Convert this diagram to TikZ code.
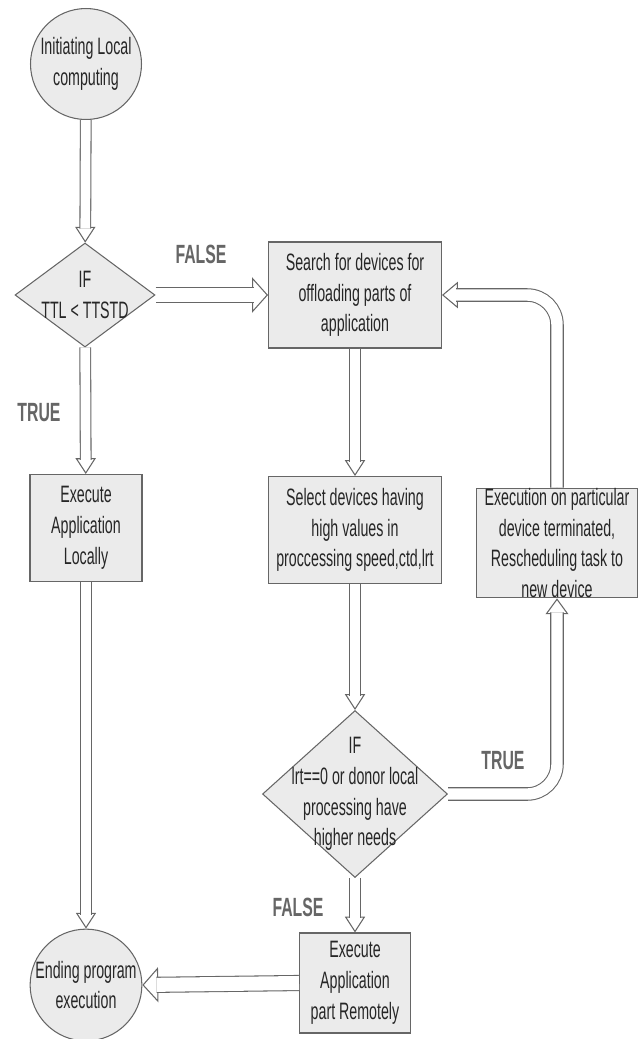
\documentclass[tikz,border=0pt]{standalone}
\usepackage{fontspec}
\setmainfont{Liberation Sans}[FakeStretch=0.6]
\usetikzlibrary{shapes.geometric,arrows.meta}

\tikzset{
  base/.style={draw=black!60, fill=black!8, line width=0.6pt, align=center,
    text=black!85, font=\fontsize{13.5}{17.5}\selectfont},
  endpoint/.style={base, circle, minimum size=2.22cm, inner sep=0pt},
  process/.style={base, rectangle, inner sep=0pt},
  decision/.style={base, diamond, inner sep=-0.5cm},
  branch/.style={text=black!60, font=\bfseries\fontsize{15}{17}\selectfont},
  flowhead/.style={draw=black!60, line width=0.6pt,
    -{Triangle[length=9pt, width=#1, fill=white]}},
  flowshaft/.style={draw=black!60, line width=0.6pt, double=white,
    double distance=#1, shorten >=8pt},
}

% hollow block arrow: shaft width, head width, path
\newcommand{\flow}[3]{%
  \draw[flowhead=#2] #3;
  \draw[flowshaft=#1] #3;}

\begin{document}
\begin{tikzpicture}[x=0.02cm, y=-0.02cm]
\useasboundingbox (0,0) rectangle (639,1039);

\node[endpoint] (start) at (86,64) {Initiating  Local\\computing};
\node[decision, minimum width=2.8cm, minimum height=2.08cm] (ttl) at (85,295) {IF\\TTL < TTSTD};
\node[process, minimum width=2.24cm, minimum height=2.14cm] (local) at (86,528) {Execute\\Application\\Locally};
\node[endpoint] (ending) at (86,985) {Ending program\\execution};

\node[process, minimum width=3.46cm, minimum height=2.12cm] (search) at (355,295)
  {Search for devices for\\offloading parts of\\application};
\node[process, minimum width=3.46cm, minimum height=2.14cm] (select) at (355,530)
  {Select  devices having\\high values in\\proccessing speed,ctd,lrt};
\node[decision, minimum width=3.7cm, minimum height=3.34cm] (lrt) at (355,794)
  {IF\\lrt==0 or donor local\\processing have\\higher needs};
\node[process, minimum width=2.22cm, minimum height=2.0cm] (remote) at (355,983)
  {Execute\\Application\\part Remotely};
\node[process, minimum width=3.22cm, minimum height=2.14cm] (resched) at (557,543)
  {Execution on particular\\device terminated,\\Rescheduling task to\\new device};

\flow{5.5pt}{11.5pt}{(start) -- (ttl)}
\flow{8pt}{20pt}{(ttl) -- (search)}
\flow{5.5pt}{11.5pt}{(ttl) -- (local)}
\flow{5.5pt}{11.5pt}{(local) -- (ending)}
\flow{5.5pt}{11.5pt}{(search) -- (select)}
\flow{5.5pt}{11.5pt}{(select) -- (lrt)}
\flow{5.5pt}{11.5pt}{(lrt) -- (remote)}
\flow{8pt}{20pt}{(remote.west) -- (ending.east)}
\flow{6.5pt}{13pt}{[rounded corners=17pt] (lrt.east) -| (resched.south)}
\flow{6.5pt}{15pt}{[rounded corners=17pt] (resched.north) |- (search.east)}

\node[branch] (no1) at (201,254) {FALSE};
\node[branch] (yes1) at (39,413) {TRUE};
\node[branch] (yes2) at (503,761) {TRUE};
\node[branch] (no2) at (298,907) {FALSE};
\end{tikzpicture}
\end{document}
